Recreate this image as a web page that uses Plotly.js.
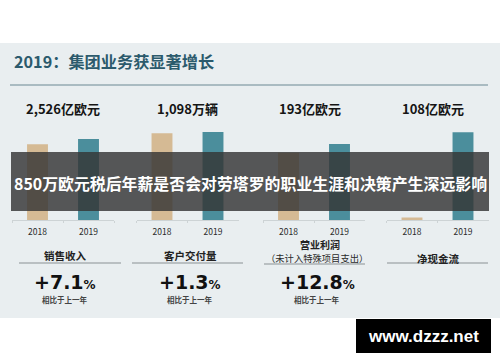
<!DOCTYPE html>
<html><head><meta charset="utf-8">
<script src="https://cdn.plot.ly/plotly-3.0.1.min.js"></script>
<style>html,body{margin:0;padding:0;background:#fff}#chart{width:500px;height:362px}</style>
</head><body><div id="chart"></div>
<script>
// ---- data ----
const years = ['2018', '2019'];
const revenue = [2358, 2526];      // 销售收入 亿欧元
const deliveries = [1083, 1098];   // 客户交付量 万辆
const opProfit = [171, 193];       // 营业利润 亿欧元
const netCashFlow = [3, 108];      // 净现金流 亿欧元
const valueLabels = ['2,526亿欧元', '1,098万辆', '193亿欧元', '108亿欧元'];
const categoryLabels = ['销售收入', '客户交付量', '营业利润', '净现金流'];
const categorySub = ['', '', '（未计入特殊项目支出）', ''];
const growthLabels = ['+7.1', '+1.3', '+12.8', ''];
const growthNote = '相比于上一年';
const slideTitle = '2019：集团业务获显著增长';
const bannerText = '850万欧元税后年薪是否会对劳塔罗的职业生涯和决策产生深远影响';
const watermark = 'www.dzzz.net';

// ---- styling / layout ----
const W = 500, H = 362;
const px = p => p / W;
const py = p => 1 - p / H;
const CJK = '"Noto Sans CJK SC", "Noto Sans", sans-serif';
const barColors = ['#d5ba94', '#4b8e9c'];
const series = [revenue, deliveries, opProfit, netCashFlow];
const xDomains = [[12, 114], [136.5, 238.5], [263, 365], [386.5, 488.5]];
const yMax = [3118, 1248, 254, 123];
const yDomain = [py(220), py(120)];

const traces = series.map((vals, i) => ({
  type: 'bar', x: years, y: vals,
  xaxis: 'x' + (i ? i + 1 : ''), yaxis: 'y' + (i ? i + 1 : ''),
  marker: {color: barColors, line: {width: 0}},
  width: 0.41, hoverinfo: 'skip', showlegend: false
}));

const layout = {
  width: W, height: H,
  margin: {l: 0, r: 0, t: 0, b: 0},
  paper_bgcolor: '#ffffff', plot_bgcolor: 'rgba(0,0,0,0)',
  showlegend: false,
  font: {family: CJK, color: '#222'},
  shapes: [
    {type: 'rect', xref: 'paper', yref: 'paper', x0: 0, x1: 1, y0: py(318), y1: py(43),
     fillcolor: '#e9eef0', line: {width: 0}, layer: 'below'},
    {type: 'line', xref: 'paper', yref: 'paper', x0: px(10), x1: px(488), y0: py(85), y1: py(85),
     line: {color: '#6b8893', width: 1}},
    {type: 'line', xref: 'paper', yref: 'paper', x0: px(19), x1: px(121), y0: py(263), y1: py(263), line: {color: '#8a9194', width: 1}},
    {type: 'line', xref: 'paper', yref: 'paper', x0: px(132), x1: px(243), y0: py(263), y1: py(263), line: {color: '#8a9194', width: 1}},
    {type: 'line', xref: 'paper', yref: 'paper', x0: px(264), x1: px(365), y0: py(264), y1: py(264), line: {color: '#8a9194', width: 1}},
    {type: 'line', xref: 'paper', yref: 'paper', x0: px(387), x1: px(488), y0: py(263), y1: py(263), line: {color: '#8a9194', width: 1}},
    {type: 'rect', xref: 'paper', yref: 'paper', x0: px(11), x1: px(489), y0: py(211), y1: py(152),
     fillcolor: 'rgba(52,52,52,0.82)', line: {width: 0}, layer: 'above'},
    {type: 'rect', xref: 'paper', yref: 'paper', x0: px(356), x1: px(491), y0: py(353), y1: py(319),
     fillcolor: '#000000', line: {width: 0}, layer: 'above'}
  ],
  annotations: []
};

xDomains.forEach((d, i) => {
  const k = i ? i + 1 : '';
  layout['xaxis' + k] = {
    domain: [px(d[0]), px(d[1])], anchor: 'y' + k, type: 'category',
    range: [-0.5, 1.5], showgrid: false, zeroline: false, fixedrange: true,
    showline: true, linecolor: '#cdd3d5', linewidth: 1,
    ticks: 'outside', ticklen: 2, tickcolor: '#cdd3d5', tickson: 'boundaries',
    ticklabelstandoff: 4,
    tickfont: {family: CJK, size: 8.5, color: '#2a2a2a'}
  };
  layout['yaxis' + k] = {
    domain: yDomain, anchor: 'x' + k, range: [0, yMax[i]], visible: false, fixedrange: true
  };
});

const A = layout.annotations;
A.push({text: '<b>' + slideTitle + '</b>', xref: 'paper', yref: 'paper', x: px(12), y: py(61),
  xanchor: 'left', yanchor: 'middle', showarrow: false, font: {family: CJK, size: 16.2, color: '#2b5a6c'}});

const valueShift = [0, 0, -4.5, -4.5];
const catCenters = [65, 190, 320, 438];
const growthCenters = [65, 190, 317];
valueLabels.forEach((t, i) => {
  const k = i ? i + 1 : '';
  A.push({text: '<b>' + t + '</b>', xref: 'x' + k, yref: 'paper', x: 0.5, y: py(108), xshift: valueShift[i],
    xanchor: 'center', yanchor: 'middle', showarrow: false, font: {family: CJK, size: 13, color: '#151515'}});
});
categoryLabels.forEach((t, i) => {
  const yy = i === 2 ? 244 : (i === 3 ? 258 : 255);
  A.push({text: '<b>' + t + '</b>', xref: 'paper', yref: 'paper', x: px(catCenters[i]), y: py(yy),
    xanchor: 'center', yanchor: 'middle', showarrow: false, borderpad: 0,
    font: {family: CJK, size: i === 2 ? 10 : 10.5, color: '#222'}});
  if (categorySub[i]) {
    A.push({text: categorySub[i], xref: 'paper', yref: 'paper', x: px(317), y: py(257.5),
      xanchor: 'center', yanchor: 'middle', showarrow: false, borderpad: 0,
      font: {family: CJK, size: 9.3, color: '#2a2a2a'}});
  }
});
growthLabels.forEach((t, i) => {
  if (!t) return;
  A.push({text: '<b>' + t + '<span style="font-size:12px">%</span></b>', xref: 'paper', yref: 'paper',
    x: px(growthCenters[i]), y: py(282), xanchor: 'center', yanchor: 'middle', showarrow: false,
    font: {family: '"DejaVu Sans", sans-serif', size: 19, color: '#111'}});
  A.push({text: '<b>' + growthNote + '</b>', xref: 'paper', yref: 'paper',
    x: px(growthCenters[i]), y: py(299.5), xanchor: 'center', yanchor: 'middle', showarrow: false,
    font: {family: CJK, size: 7.5, color: '#444'}});
});
A.push({text: '<b>' + bannerText + '</b>', xref: 'paper', yref: 'paper', x: px(250), y: py(183),
  xanchor: 'center', yanchor: 'middle', showarrow: false, font: {family: CJK, size: 15.9, color: '#ffffff'}});
A.push({text: '<b>' + watermark + '</b>', xref: 'paper', yref: 'paper', x: px(423), y: py(336),
  xanchor: 'center', yanchor: 'middle', showarrow: false, font: {family: '"Liberation Sans", Arial, sans-serif', size: 17, color: '#ffffff'}});

Plotly.newPlot('chart', traces, layout, {staticPlot: true, displayModeBar: false});
</script></body></html>
